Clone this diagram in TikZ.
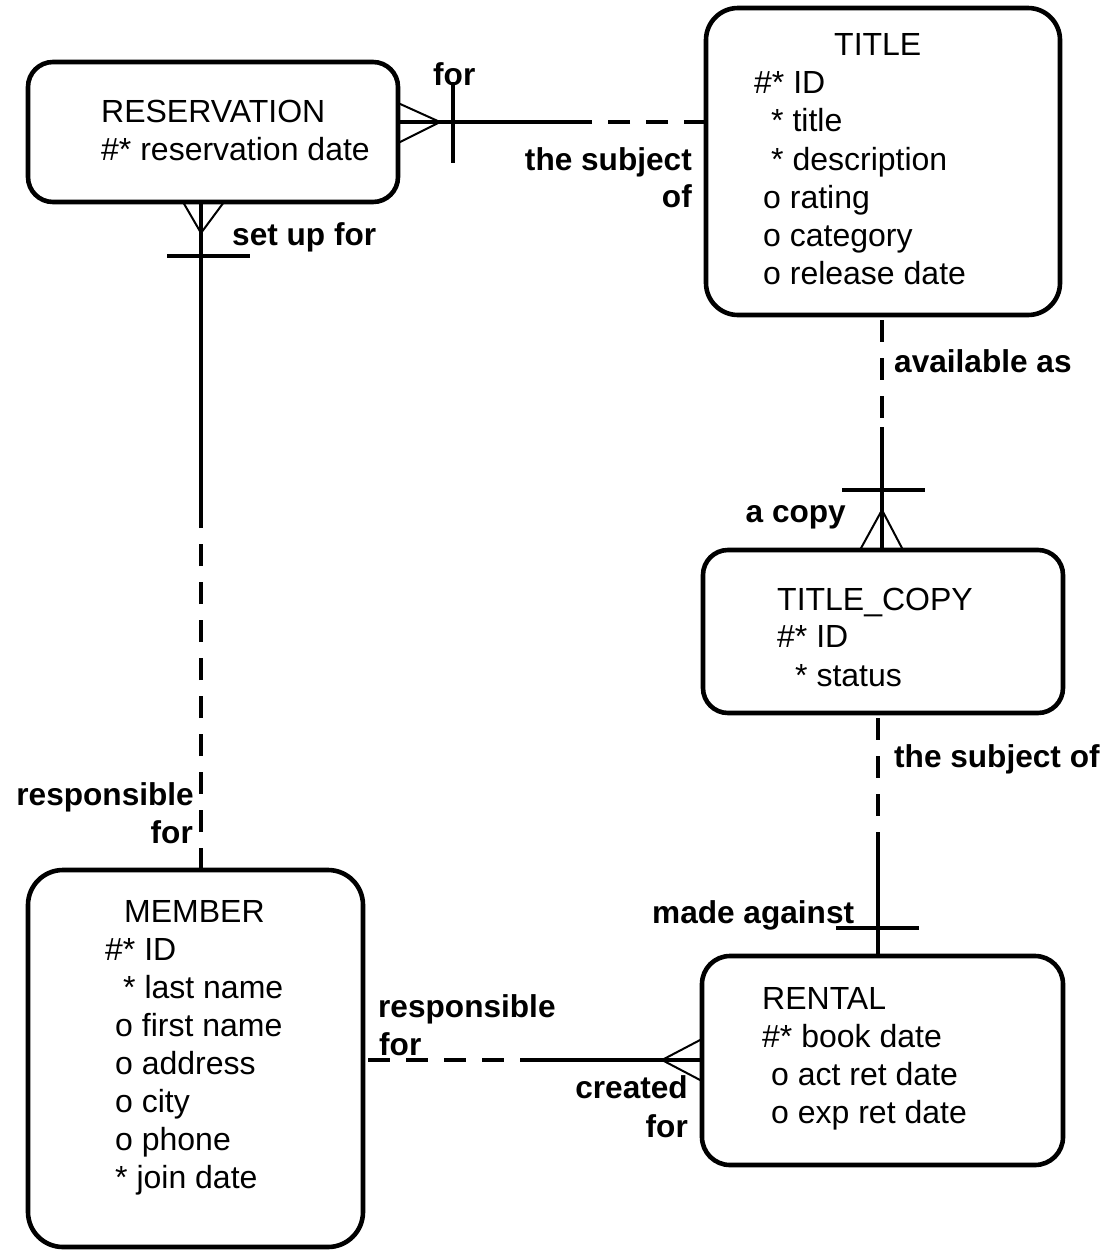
\documentclass[tikz,border=0pt]{standalone}
\usepackage{fontspec}
\setmainfont{Liberation Sans}
\newcommand\attrfont{\fontsize{32}{38}\selectfont}
\newcommand\lblfont{\fontsize{31.6}{37}\selectfont\bfseries}
\tikzset{
  entity/.style={draw, line width=4.6pt, rounded corners=25pt, inner sep=0pt, outer sep=0pt},
  rel/.style={line width=4.8pt},
  reldash/.style={line width=4.8pt, dash pattern=on 22pt off 16pt},
  foot/.style={line width=2pt},
  attr/.style={anchor=base west, inner sep=0pt, font=\attrfont},
  lblw/.style={anchor=base west, inner sep=0pt, font=\lblfont},
  lble/.style={anchor=base east, inner sep=0pt, font=\lblfont},
}
\begin{document}
\begin{tikzpicture}[x=1pt, y=-1pt]
\useasboundingbox (0,0) rectangle (1110,1251);

% entity boxes
\node[entity, minimum width=370pt, minimum height=140pt] (res) at (213,132) {};
\node[entity, rounded corners=32pt, minimum width=354pt, minimum height=307pt] (ti) at (883,161.5) {};
\node[entity, minimum width=360pt, minimum height=163pt] (tc) at (883,631.5) {};
\node[entity, rounded corners=28pt, minimum width=361pt, minimum height=209pt] (re) at (882.5,1060.5) {};
\node[entity, rounded corners=35pt, minimum width=335pt, minimum height=377pt] (me) at (195.5,1058.5) {};

% RESERVATION text
\node[attr] (res0) at (101,122) {RESERVATION};
\node[attr] (res1) at (101,160.5) {\#* reservation date};

% TITLE text
\node[attr] (ti0) at (834,55) {TITLE};
\node[attr] (ti1) at (754,93.3) {\#* ID};
\node[attr] (ti2) at (771,131.6) {* title};
\node[attr] (ti3) at (771,170) {* description};
\node[attr] (ti4) at (763,208.2) {o rating};
\node[attr] (ti5) at (763,246.5) {o category};
\node[attr] (ti6) at (763,284.8) {o release date};

% TITLE_COPY text
\node[attr] (tc0) at (777,610) {TITLE\_COPY};
\node[attr] (tc1) at (777,647.5) {\#* ID};
\node[attr] (tc2) at (795,686) {* status};

% RENTAL text
\node[attr] (re0) at (762,1009) {RENTAL};
\node[attr] (re1) at (762,1047) {\#* book date};
\node[attr] (re2) at (771,1085) {o act ret date};
\node[attr] (re3) at (771,1123) {o exp ret date};

% MEMBER text
\node[attr] (me0) at (124,922) {MEMBER};
\node[attr] (me1) at (105,960) {\#* ID};
\node[attr] (me2) at (123,998) {* last name};
\node[attr] (me3) at (115,1036) {o first name};
\node[attr] (me4) at (115,1074) {o address};
\node[attr] (me5) at (115,1112) {o city};
\node[attr] (me6) at (115,1150) {o phone};
\node[attr] (me7) at (115,1188) {* join date};

% ---- RESERVATION -- TITLE
\coordinate (rt1) at ([yshift=10pt]res.east);
\coordinate (rt2) at (ti.west |- rt1);
\coordinate (rtm) at (570,122);
\draw[rel] (rt1) -- (rtm);
\draw[reldash] (rt2) -- (rtm);
\draw[foot] (398,103) -- (440,122) -- (398,143);
\draw[rel] (453,82) -- (453,163);
\node[lblw] (l1) at (433,85) {for};
\node[lble] (l2) at (692,170) {the subject};
\node[lble] (l3) at (692,207) {of};

% ---- RESERVATION -- MEMBER
\coordinate (rm1) at (res.south -| 201,0);
\coordinate (rm2) at (me.north -| 201,0);
\coordinate (rmm) at (201,526);
\draw[rel] (rm1) -- (rmm);
\draw[reldash] (rm2) -- (rmm);
\draw[foot] (183,202) -- (201,233) -- (224,202);
\draw[rel] (167,256) -- (250,256);
\node[lblw] (l4) at (232,245) {set up for};
\node[lble] (l5) at (194,805) {responsible};
\node[lble] (l6) at (193,843) {for};

% ---- TITLE -- TITLE_COPY
\coordinate (tt1) at (ti.south -| 882,0);
\coordinate (tt2) at (tc.north -| 882,0);
\coordinate (ttm) at (882,427);
\draw[reldash, dash phase=33pt] (tt1) -- (ttm);
\draw[rel] (ttm) -- (tt2);
\draw[rel] (842,490) -- (925,490);
\draw[foot] (860,550) -- (882,510) -- (903,550);
\node[lblw] (l7) at (894,372) {available as};
\node[lble] (l8) at (846,522) {a copy};

% ---- TITLE_COPY -- RENTAL
\coordinate (tr1) at (tc.south -| 878,0);
\coordinate (tr2) at (re.north -| 878,0);
\coordinate (trm) at (878,838);
\draw[reldash, dash phase=33pt] (tr1) -- (trm);
\draw[rel] (trm) -- (tr2);
\draw[rel] (836,928) -- (919,928);
\node[lblw] (l9) at (894,767) {the subject of};
\node[lblw] (l10) at (652,923) {made against};

% ---- MEMBER -- RENTAL
\coordinate (mr1) at (me.east |- 0,1060);
\coordinate (mr2) at (re.west |- 0,1060);
\coordinate (mrm) at (521,1060);
\draw[reldash, dash phase=33pt] (mr1) -- (mrm);
\draw[rel] (mrm) -- (mr2);
\draw[foot] (702,1039) -- (662,1060) -- (702,1081);
\node[lblw] (l11) at (378,1017) {responsible};
\node[lblw] (l12) at (379,1055) {for};
\node[lble] (l13) at (688,1098) {created};
\node[lble] (l14) at (688,1137) {for};
\end{tikzpicture}
\end{document}
